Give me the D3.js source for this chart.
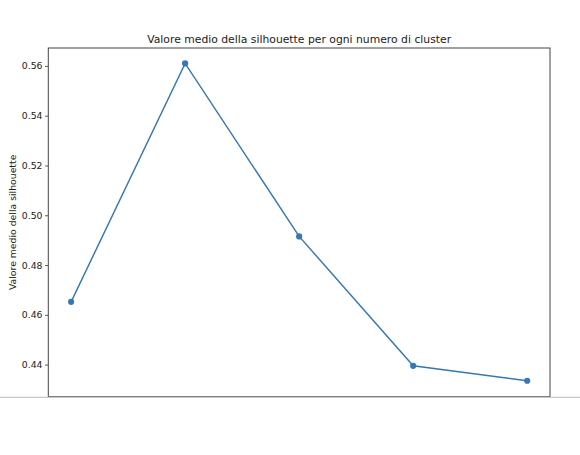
<!DOCTYPE html>
<html>
<head>
<meta charset="utf-8">
<script src="https://cdn.jsdelivr.net/npm/d3@7"></script>
<style>
  html, body { margin: 0; padding: 0; background: #fff; }
  svg { display: block; }
  text { font-family: "DejaVu Sans", sans-serif; fill: #222; }
</style>
</head>
<body>
<svg id="chart" width="580" height="455"></svg>
<script>
// Data
const clusters = [2, 3, 4, 5, 6];
const silhouette = [0.4652, 0.5610, 0.4915, 0.4395, 0.4335];
const yTicks = [0.44, 0.46, 0.48, 0.50, 0.52, 0.54, 0.56];
const titleText = "Valore medio della silhouette per ogni numero di cluster";
const yLabelText = "Valore medio della silhouette";

const W = 580, H = 455;
const mLeft = 48.3, mRight = 550, mTop = 48, mBottom = 396.7;

const svg = d3.select("#chart");

const x = d3.scaleLinear().domain([1.8, 6.2]).range([mLeft, mRight]);
const y = d3.scaleLinear().domain([0.4271, 0.5672]).range([mBottom, mTop]);

// Y axis
const yAxis = d3.axisLeft(y).tickValues(yTicks).tickFormat(d3.format(".2f"))
  .tickSize(3.3).tickPadding(2.5);
const gy = svg.append("g").attr("transform", `translate(${mLeft},0)`).call(yAxis);
gy.select(".domain").remove();
gy.selectAll(".tick line").attr("stroke", "#333").attr("stroke-width", 0.8);
gy.selectAll(".tick text").style("font-size", "9.3px").attr("fill", "#222")
  .style("font-family", "DejaVu Sans, sans-serif");

// Spines
svg.append("rect")
  .attr("x", mLeft).attr("y", mTop)
  .attr("width", mRight - mLeft).attr("height", mBottom - mTop)
  .attr("fill", "none").attr("stroke", "#444").attr("stroke-width", 1);

// Line
const line = d3.line().x((d, i) => x(clusters[i])).y(d => y(d));
svg.append("path")
  .datum(silhouette)
  .attr("d", line)
  .attr("fill", "none")
  .attr("stroke", "#3677b5")
  .attr("stroke-width", 1.45);

svg.selectAll("circle.pt")
  .data(silhouette)
  .enter().append("circle")
  .attr("class", "pt")
  .attr("cx", (d, i) => x(clusters[i]))
  .attr("cy", d => y(d))
  .attr("r", 3.1)
  .attr("fill", "#3677b5");

// Title
svg.append("text")
  .attr("x", (mLeft + mRight) / 2).attr("y", 43)
  .attr("text-anchor", "middle")
  .style("font-size", "10.8px")
  .text(titleText);

// Y label
svg.append("text")
  .attr("transform", `translate(16,${(mTop + mBottom) / 2}) rotate(-90)`)
  .attr("text-anchor", "middle")
  .style("font-size", "9.3px")
  .text(yLabelText);

// White cover below and full-width separator
svg.append("rect")
  .attr("x", 0).attr("y", 397.5).attr("width", W).attr("height", H - 397.5)
  .attr("fill", "#fff");
svg.append("line")
  .attr("x1", 0).attr("x2", W).attr("y1", 397.3).attr("y2", 397.3)
  .attr("stroke", "#c8c8c8").attr("stroke-width", 1.3);
</script>
</body>
</html>
